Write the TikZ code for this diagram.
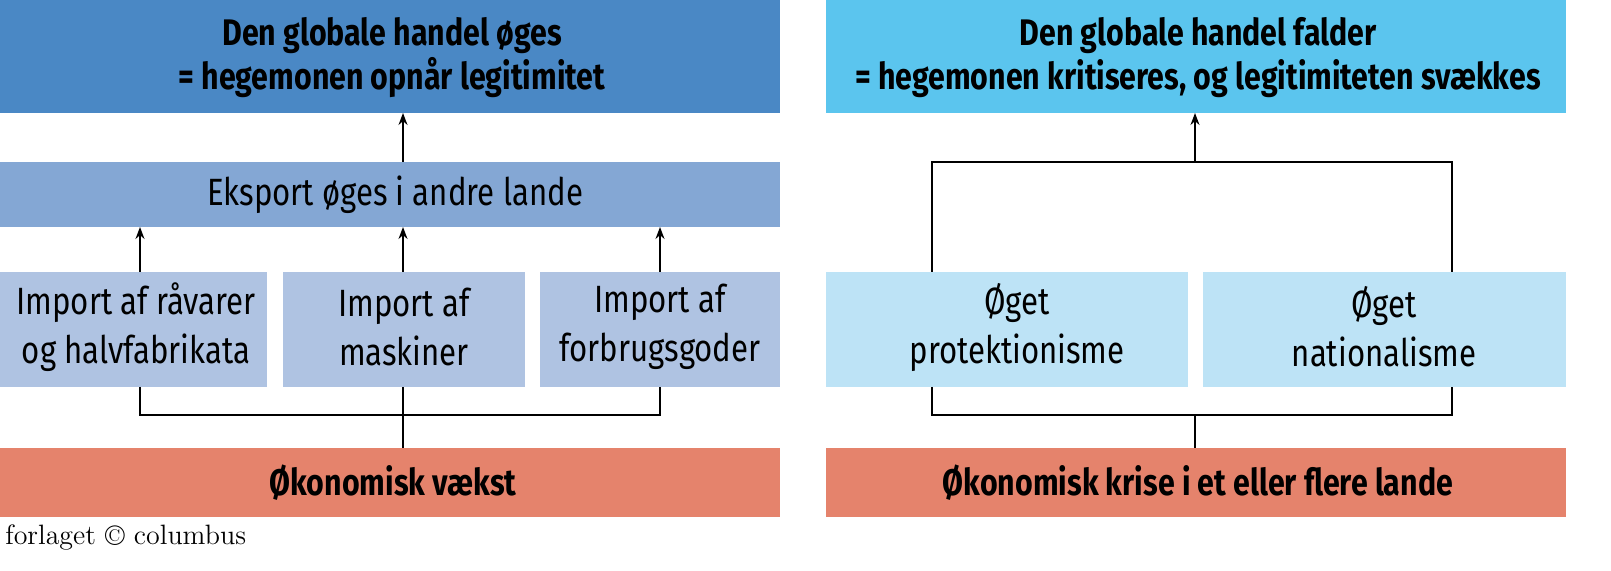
\documentclass[tikz,border=0pt]{standalone}
\usepackage{fontspec}
\setsansfont{Fira Sans}[FakeStretch=0.82]
\usetikzlibrary{arrows.meta}
\definecolor{dblue}{HTML}{4A88C5}
\definecolor{mblue}{HTML}{84A7D4}
\definecolor{lblue}{HTML}{AFC3E2}
\definecolor{cyanA}{HTML}{5BC5EE}
\definecolor{cyanB}{HTML}{BDE3F6}
\definecolor{salmon}{HTML}{E5836C}
\tikzset{
 bx/.style={inner sep=0pt,align=center,font=\sffamily\fontsize{19}{24.5}\selectfont},
 bold/.style={font=\sffamily\bfseries\fontsize{18.5}{22}\selectfont},
 ln/.style={line width=0.8pt},
 ar/.style={ln,-{Stealth[length=6pt,width=4.5pt]}}
}
\begin{document}
\begin{tikzpicture}[x=0.5pt,y=-0.5pt]
\useasboundingbox (0,0) rectangle (1611,571);
% boxes
\fill[dblue] (0,0) rectangle (780,113);
\node[bx,bold] (t1) at (392,58) {Den globale handel øges\\= hegemonen opnår legitimitet};
\fill[mblue] (0,162) rectangle (780,227);
\node[bx] (eks) at (395,195) {Eksport øges i andre lande};
\fill[lblue] (0,272) rectangle (267,387);
\fill[lblue] (283,272) rectangle (525,387);
\fill[lblue] (540,272) rectangle (780,387);
\node[bx] (i1) at (136,327) {Import af råvarer\\og halvfabrikata};
\node[bx] (i2) at (404,327) {Import af\\maskiner};
\node[bx] (i3) at (660,327) {Import af\\forbrugsgoder};
\fill[salmon] (0,448) rectangle (780,517);
\node[bx,bold] (v) at (393,483) {Økonomisk vækst};
\fill[cyanA] (826,0) rectangle (1566,113);
\node[bx,bold] (t2) at (1198,58) {Den globale handel falder\\= hegemonen kritiseres, og legitimiteten svækkes};
\fill[cyanB] (826,272) rectangle (1188,387);
\fill[cyanB] (1203,272) rectangle (1566,387);
\node[bx] (p) at (1017,327) {Øget\\protektionisme};
\node[bx] (n) at (1384,327) {Øget\\nationalisme};
\fill[salmon] (826,448) rectangle (1566,517);
\node[bx,bold] (k) at (1198,483) {Økonomisk krise i et eller flere lande};
% coordinates
\coordinate (l1) at (140,415); \coordinate (l2) at (403,415); \coordinate (l3) at (660,415);
\coordinate (r1) at (932,415); \coordinate (r2) at (1195,415); \coordinate (r3) at (1452,415);
\coordinate (u1) at (932,162); \coordinate (u2) at (1195,162); \coordinate (u3) at (1452,162);
% left connectors
\draw[ln] (140,387) -- (l1) -- (l3) -- (660,387);
\draw[ln] (403,387) -- (l2) -- (403,448);
\draw[ar] (140,272) -- (140,227);
\draw[ar] (403,272) -- (403,227);
\draw[ar] (660,272) -- (660,227);
\draw[ar] (403,162) -- (403,113);
% right connectors
\draw[ln] (932,387) -- (r1) -- (r3) -- (1452,387);
\draw[ln] (r2) -- (1195,448);
\draw[ln] (932,272) -- (u1) -- (u3) -- (1452,272);
\draw[ar] (u2) -- (1195,113);
% logo
\node[anchor=west,inner sep=0pt,font=\fontsize{14}{15}\selectfont] (logo) at (5,538) {forlaget \raisebox{-0.5pt}{\Large\textcopyright} columbus};
\end{tikzpicture}
\end{document}
